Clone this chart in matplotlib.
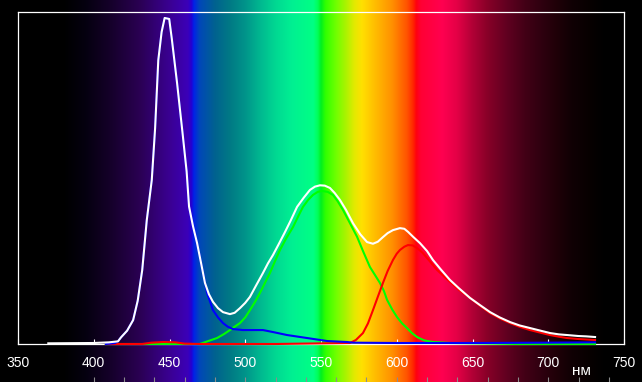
import numpy as np
import matplotlib
matplotlib.use("Agg")
import matplotlib.pyplot as plt
from matplotlib.colors import to_rgb

# ---------------- data (relative intensity vs wavelength, nm) ----------------
white_nm = [370, 400, 410, 416, 418, 422, 426, 429, 432, 435, 438.3, 440.5, 442.6,
            444.8, 446.8, 449.8, 451.5, 455, 458.5, 461.3, 462.9, 465.5, 468.2, 471,
            473.4, 476, 478.7, 482, 485.3, 489.9, 493, 496.5, 500, 503.1, 507,
            511.7, 515, 518.3, 522, 526.2, 530, 534.2, 538.5, 542.7, 546, 549.3,
            552.5, 555.9, 559, 562.5, 566.5, 571.1, 576, 580.4, 584.3, 587.5,
            590.9, 594, 597.5, 602.1, 605, 607.4, 611, 615.3, 620, 623.9, 629,
            635.1, 641, 648.3, 655, 661.6, 668, 674.8, 681, 688, 695, 701.2,
            707, 712.4, 720, 725, 730.9]
white_val = [0.002, 0.003, 0.005, 0.008, 0.02, 0.04, 0.072, 0.13, 0.223, 0.373,
             0.494, 0.65, 0.855, 0.94, 0.982, 0.979, 0.92, 0.786, 0.64, 0.52,
             0.414, 0.355, 0.304, 0.24, 0.184, 0.15, 0.127, 0.108, 0.096, 0.090,
             0.094, 0.108, 0.124, 0.142, 0.175, 0.214, 0.243, 0.268, 0.3, 0.337,
             0.372, 0.413, 0.44, 0.464, 0.474, 0.478, 0.477, 0.470, 0.455, 0.434,
             0.404, 0.364, 0.33, 0.307, 0.302, 0.308, 0.322, 0.334, 0.343, 0.349,
             0.347, 0.338, 0.322, 0.304, 0.28, 0.253, 0.225, 0.193, 0.168, 0.139,
             0.117, 0.096, 0.08, 0.066, 0.056, 0.048, 0.04, 0.033, 0.029, 0.027,
             0.024, 0.023, 0.021]

blue_nm = [408, 414, 416, 418, 422, 426, 429, 432, 435, 438.3, 440.5, 442.6,
           444.8, 446.8, 449.8, 451.5, 455, 458.5, 461.3, 462.9, 465.5, 468.2,
           471, 474.8, 478.7, 482, 485.3, 488.5, 491.9, 498.5, 505, 511.7, 518.3,
           527.6, 540.8, 554, 567.2, 571.1, 600, 650, 700, 730.9]
blue_val = [0.0, 0.003, 0.008, 0.02, 0.04, 0.072, 0.13, 0.223, 0.373, 0.494,
            0.65, 0.855, 0.94, 0.982, 0.979, 0.92, 0.786, 0.64, 0.52, 0.414,
            0.355, 0.304, 0.24, 0.154, 0.102, 0.08, 0.063, 0.052, 0.045, 0.042,
            0.042, 0.042, 0.036, 0.027, 0.018, 0.009, 0.006, 0.004, 0.003, 0.003,
            0.004, 0.005]

green_nm = [408, 470.1, 475, 481.4, 486, 489.9, 493, 496.5, 500, 503.1, 506.5,
            509.7, 513, 516.3, 519.5, 522.9, 527, 531.5, 535, 538.1, 541.5,
            544.7, 547.8, 550.7, 554.5, 557.9, 561, 564.5, 569.1, 573.8, 578,
            582.3, 585.6, 588.9, 591.5, 593.6, 597, 600.2, 603.5, 606.8, 610,
            613.4, 618, 623.9, 635.1, 680, 730.9]
green_val = [0.0, 0.0, 0.008, 0.018, 0.03, 0.042, 0.052, 0.063, 0.08, 0.102,
             0.127, 0.154, 0.184, 0.214, 0.248, 0.283, 0.318, 0.352, 0.385,
             0.413, 0.434, 0.449, 0.458, 0.461, 0.458, 0.449, 0.43, 0.404,
             0.364, 0.323, 0.277, 0.232, 0.208, 0.184, 0.16, 0.133, 0.104,
             0.081, 0.062, 0.048, 0.033, 0.021, 0.011, 0.006, 0.003, 0.0, 0.0]

red_nm = [408, 432, 438, 446, 454, 460, 470, 520, 569.1, 573, 577.7, 581,
          584.3, 587.5, 590.9, 594, 597.5, 600, 602.1, 605, 607.4, 610.5,
          613.4, 617, 620, 626.6, 635.1, 641, 648.3, 655, 661.6, 668, 674.8,
          681, 688, 695, 701.2, 707, 712.4, 720, 730.9]
red_val = [0.0, 0.0, 0.004, 0.006, 0.005, 0.001, 0.0, 0.0, 0.003, 0.012,
           0.033, 0.062, 0.102, 0.142, 0.184, 0.22, 0.253, 0.272, 0.283,
           0.293, 0.298, 0.297, 0.289, 0.275, 0.259, 0.223, 0.187, 0.163,
           0.139, 0.115, 0.093, 0.077, 0.063, 0.052, 0.042, 0.034, 0.027,
           0.022, 0.018, 0.015, 0.012]

xticks = [350, 400, 450, 500, 550, 600, 650, 700, 750]
bottom_marks = list(range(400, 741, 20))
unit_label = "нм"

# spectrum background colour stops (nm, colour)
spec_nm = [338, 380, 395, 410, 430, 450, 462, 464.5, 466, 470, 480, 490, 500,
           510, 520, 531, 545, 548, 550, 553, 560, 567, 572, 577, 585, 597,
           607, 611, 613, 616, 630, 640, 650, 660, 673, 685, 695, 705, 716,
           730, 738, 762]
spec_col = ["#000000", "#000000", "#050010", "#140028", "#2a0052", "#3a0092",
            "#3c00b8", "#2400d2", "#0022e8", "#0048b8", "#00628f", "#007a85",
            "#00948a", "#00b890", "#00d892", "#00f092", "#00ff84", "#00ff58",
            "#00f020", "#30ff00", "#70ff00", "#b0f200", "#e2ea00", "#ffe000",
            "#ffc000", "#ff9000", "#ff5200", "#ff2400", "#ff0010", "#ff0034",
            "#ff0050", "#e40046", "#b20036", "#880028", "#600020", "#420016",
            "#300010", "#200008", "#100004", "#050000", "#000000", "#000000"]

# ---------------- figure ----------------
W, H = 642, 382
fig = plt.figure(figsize=(W / 100, H / 100), dpi=100, facecolor="black")

x_left_px, x_right_px = 18, 624
px_per_nm = (x_right_px - x_left_px) / (750 - 350)
fig_nm0 = 350 - x_left_px / px_per_nm
fig_nm1 = 350 + (W - x_left_px) / px_per_nm

# background spectrum across the whole figure
ax_bg = fig.add_axes([0, 0, 1, 1])
ax_bg.set_xlim(fig_nm0, fig_nm1)
ax_bg.set_ylim(0, H)
ax_bg.axis("off")
grid_nm = np.linspace(fig_nm0, fig_nm1, 1400)
rgb = np.array([to_rgb(c) for c in spec_col])
img = np.stack([np.interp(grid_nm, spec_nm, rgb[:, k]) for k in range(3)], axis=-1)
ax_bg.imshow(img[np.newaxis, :, :], extent=[fig_nm0, fig_nm1, 0, H],
             aspect="auto", interpolation="bilinear", zorder=0)
ax_bg.vlines(bottom_marks, 0, 5, colors="#8c8c8c", linewidth=0.8, zorder=1)
fig.text(581 / W, 4 / H, unit_label, color="white", fontsize=11,
         family="Liberation Sans", ha="center", va="bottom")

# main axes
ax = fig.add_axes([x_left_px / W, 38 / H, (x_right_px - x_left_px) / W, 332 / H])
ax.set_facecolor("none")
ax.set_xlim(350, 750)
ax.set_ylim(0, 1.0)
for s in ax.spines.values():
    s.set_color("white")
    s.set_linewidth(0.9)
ax.set_yticks([])
ax.set_xticks(xticks)
ax.set_xticklabels([str(t) for t in xticks], color="white", fontsize=10,
                   family="Liberation Sans")
ax.tick_params(axis="x", direction="in", length=3.5, width=0.8, color="white",
               pad=8.5)

lw = 1.5
ax.plot(green_nm, green_val, color="#00ff00", lw=lw, zorder=3, clip_on=False)
ax.plot(red_nm, red_val, color="#ff0000", lw=lw, zorder=4, clip_on=False)
ax.plot(blue_nm, blue_val, color="#0000ff", lw=lw, zorder=5, clip_on=False)
ax.plot(white_nm, white_val, color="white", lw=lw, zorder=6, clip_on=False)

fig.savefig("out.png", dpi=100, facecolor="black")
